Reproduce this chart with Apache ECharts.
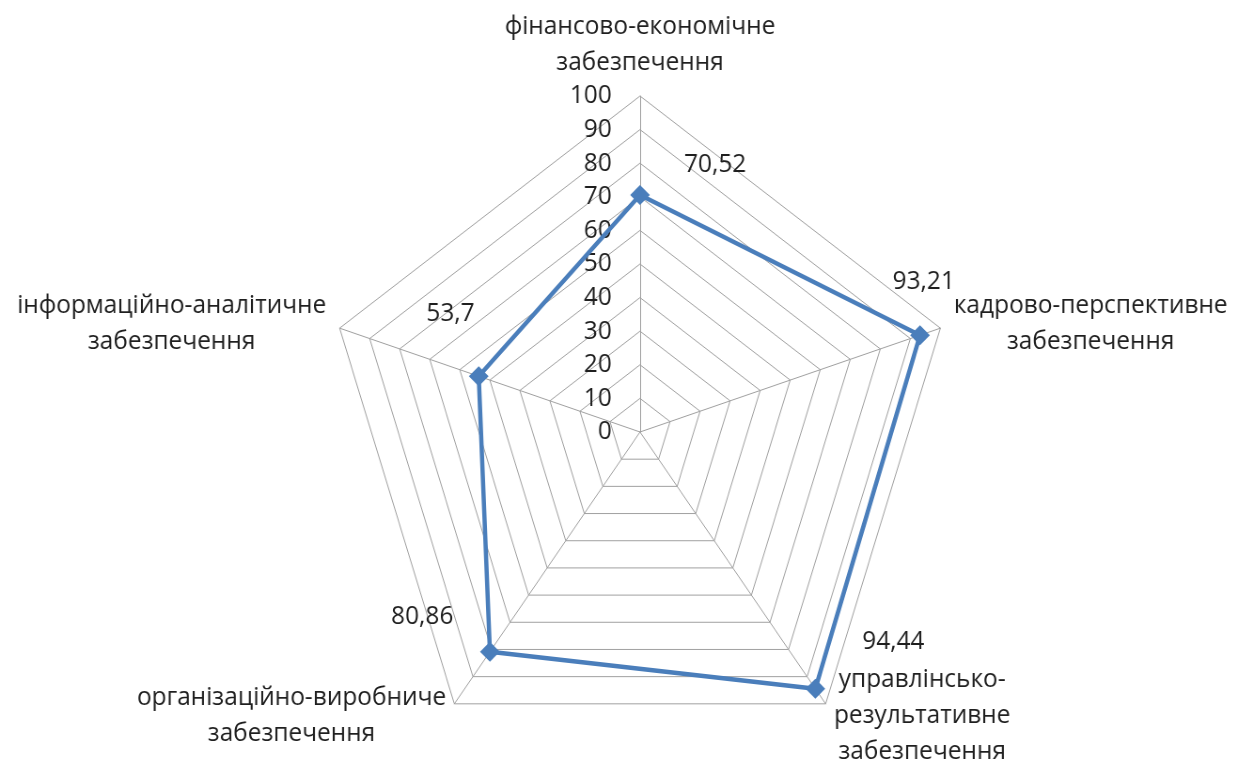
<!DOCTYPE html>
<html>
<head>
<meta charset="utf-8">
<script src="https://cdn.jsdelivr.net/npm/echarts@6/dist/echarts.min.js"></script>
<style>
  html, body { margin: 0; padding: 0; background: #fff; overflow: hidden; }
  #wrap { width: 1239px; height: 767px; overflow: hidden; position: relative; }
  #chart { position: absolute; left: 0; top: 0; height: 767px; transform-origin: 0 0; }
</style>
</head>
<body>
<div id="wrap"><div id="chart"></div></div>
<script>
// Indicators, listed counter-clockwise starting at the top axis
const indicatorNames = [
  'фінансово-економічне\nзабезпечення',
  'інформаційно-аналітичне\nзабезпечення',
  'організаційно-виробниче\nзабезпечення',
  'управлінсько-\nрезультативне\nзабезпечення',
  'кадрово-перспективне\nзабезпечення'
];
const values = [70.52, 53.7, 80.86, 94.44, 93.21];
const axisMin = 0;
const axisMax = 100;
const axisStep = 10;

// Layout
const squeeze = 0.94;              // horizontal compression of the whole drawing
const baseW = 1239 / squeeze;
const centerX = 640 / squeeze;
const centerY = 432;
const radius = 336;
const font = '"Open Sans"';
const fontSize = 26;
const textColor = '#1f1f1f';
const gridColor = '#a0a0a0';
const lineColor = '#4a7ebb';
// value-label offsets (px) for each indicator, same order as values
const labelOffsets = [[80, -30], [-30, -63], [-72, -35], [83, -47], [4, -54]];

const el = document.getElementById('chart');
el.style.width = baseW + 'px';
el.style.transform = 'scaleX(' + squeeze + ')';

const fmtValue = v => String(v).replace('.', ',');

const chart = echarts.init(el, null, { renderer: 'canvas' });

const labelSeriesData = values.map((v, i) => ({
  value: values.slice(),
  symbolSize: 0,
  itemStyle: { color: 'transparent' },
  lineStyle: { width: 0, opacity: 0 },
  label: {
    show: true,
    position: 'inside',
    offset: labelOffsets[i],
    color: textColor,
    fontFamily: font,
    fontSize: fontSize,
    formatter: p => (p.value === v ? fmtValue(v) : '')
  }
}));

chart.setOption({
  animation: false,
  backgroundColor: '#fff',
  radar: {
    center: [centerX, centerY],
    radius: radius,
    startAngle: 90,
    splitNumber: (axisMax - axisMin) / axisStep,
    shape: 'polygon',
    nameGap: 15,
    axisName: {
      color: textColor,
      fontFamily: font,
      fontSize: fontSize,
      lineHeight: 36,
      formatter: name => name.split('\n').map(l => '{c|' + l + '}').join('\n'),
      rich: { c: { align: 'center', fontFamily: font, fontSize: fontSize, lineHeight: 36, color: textColor } }
    },
    splitLine: { lineStyle: { color: gridColor, width: 1 } },
    splitArea: { show: false },
    axisLine: { lineStyle: { color: gridColor, width: 1 } },
    axisTick: { show: false },
    axisLabel: {
      show: true,
      color: textColor,
      fontFamily: font,
      fontSize: fontSize,
      margin: 30
    },
    indicator: indicatorNames.map((n, i) => ({
      name: n,
      min: axisMin,
      max: axisMax,
      axisLabel: { show: i === 0 }
    }))
  },
  series: [
    {
      type: 'radar',
      silent: true,
      symbol: 'diamond',
      symbolSize: [21, 20],
      lineStyle: { color: lineColor, width: 4.5 },
      itemStyle: { color: lineColor },
      data: [{ value: values }]
    },
    {
      type: 'radar',
      silent: true,
      symbol: 'circle',
      data: labelSeriesData
    }
  ]
});
</script>
</body>
</html>
